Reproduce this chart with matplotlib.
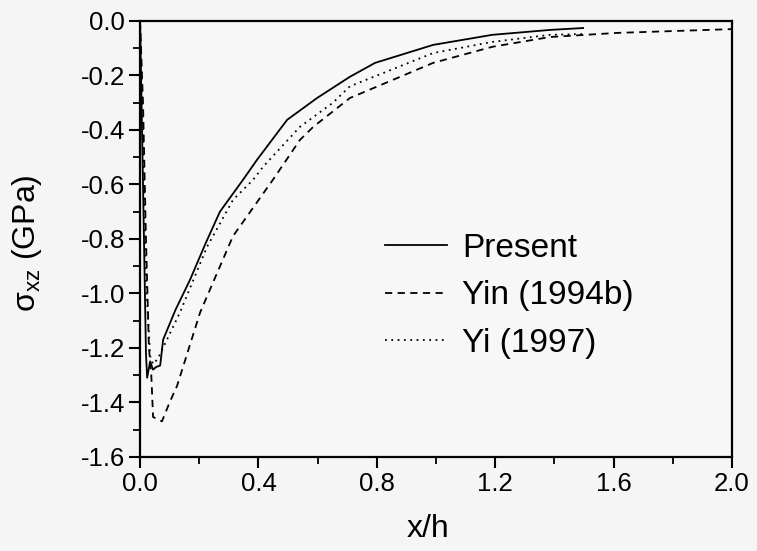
import matplotlib
matplotlib.use("Agg")
import matplotlib.pyplot as plt
from matplotlib.ticker import MultipleLocator, FormatStrFormatter

plt.rcParams['font.family'] = ['Liberation Sans', 'DejaVu Sans']
plt.rcParams['mathtext.fontset'] = 'custom'
plt.rcParams['mathtext.rm'] = 'Liberation Sans'
plt.rcParams['mathtext.it'] = 'Liberation Sans'

# Shear stress along the interface, three solutions
x_present = [0.0, 0.01, 0.02, 0.024, 0.034, 0.044, 0.055, 0.068, 0.078, 0.12, 0.169,
             0.22, 0.27, 0.348, 0.395, 0.497, 0.598, 0.709, 0.794, 0.99, 1.19, 1.385, 1.497]
s_present = [0.0, -0.6, -1.22, -1.31, -1.25, -1.28, -1.27, -1.265, -1.17, -1.06, -0.95,
             -0.82, -0.70, -0.583, -0.51, -0.363, -0.283, -0.205, -0.154, -0.088, -0.051, -0.033, -0.026]

x_yin = [0.0, 0.01, 0.02, 0.03, 0.038, 0.044, 0.074, 0.10, 0.125, 0.203, 0.314,
         0.449, 0.54, 0.585, 0.709, 0.99, 1.19, 1.385, 1.61, 2.0]
s_yin = [0.0, -0.3, -0.8, -1.2, -1.30, -1.454, -1.47, -1.40, -1.34, -1.07, -0.79,
         -0.583, -0.437, -0.389, -0.283, -0.154, -0.095, -0.059, -0.044, -0.03]

x_yi = [0.0, 0.01, 0.02, 0.034, 0.044, 0.06, 0.135, 0.226, 0.314, 0.382,
        0.416, 0.54, 0.652, 0.709, 0.99, 1.19, 1.385, 1.5]
s_yi = [0.0, -0.4, -0.95, -1.23, -1.26, -1.24, -1.07, -0.83, -0.657, -0.583,
        -0.535, -0.389, -0.30, -0.24, -0.118, -0.077, -0.051, -0.048]

fig = plt.figure(figsize=(7.57, 5.51), dpi=100, facecolor='#f5f5f5')
ax = fig.add_axes([0.185, 0.171, 0.782, 0.791], facecolor='#f7f7f7')

ax.plot(x_present, s_present, color='black', lw=1.3, ls='-', label='Present')
ax.plot(x_yin, s_yin, color='black', lw=1.3, ls=(0, (4, 3)), label='Yin (1994b)')
ax.plot(x_yi, s_yi, color='black', lw=1.3, ls=(0, (1, 2.5)), label='Yi (1997)')

ax.set_xlim(0.0, 2.0)
ax.set_ylim(-1.6, 0.0)
ax.xaxis.set_major_locator(MultipleLocator(0.4))
ax.xaxis.set_minor_locator(MultipleLocator(0.2))
ax.yaxis.set_major_locator(MultipleLocator(0.2))
ax.yaxis.set_minor_locator(MultipleLocator(0.1))
ax.xaxis.set_major_formatter(FormatStrFormatter('%.1f'))
ax.yaxis.set_major_formatter(FormatStrFormatter('%.1f'))

for side in ax.spines.values():
    side.set_linewidth(1.6)
ax.tick_params(which='major', direction='out', length=8, width=1.5, labelsize=18.5, pad=3)
ax.tick_params(which='minor', direction='out', length=5, width=1.3)

ax.set_xlabel('x/h', fontsize=23)
ax.xaxis.set_label_coords(0.486, -0.131)
ax.set_ylabel(r'$\mathregular{\sigma_{xz}}$ (GPa)', fontsize=23)
ax.yaxis.set_label_coords(-0.162, 0.489)

ax.legend(loc='center left', bbox_to_anchor=(0.509, 0.463), bbox_transform=fig.transFigure,
          frameon=False, fontsize=24, handlelength=1.86, handletextpad=0.45,
          labelspacing=0.5, borderpad=0, borderaxespad=0)

fig.savefig('out.png', dpi=100, facecolor=fig.get_facecolor())
